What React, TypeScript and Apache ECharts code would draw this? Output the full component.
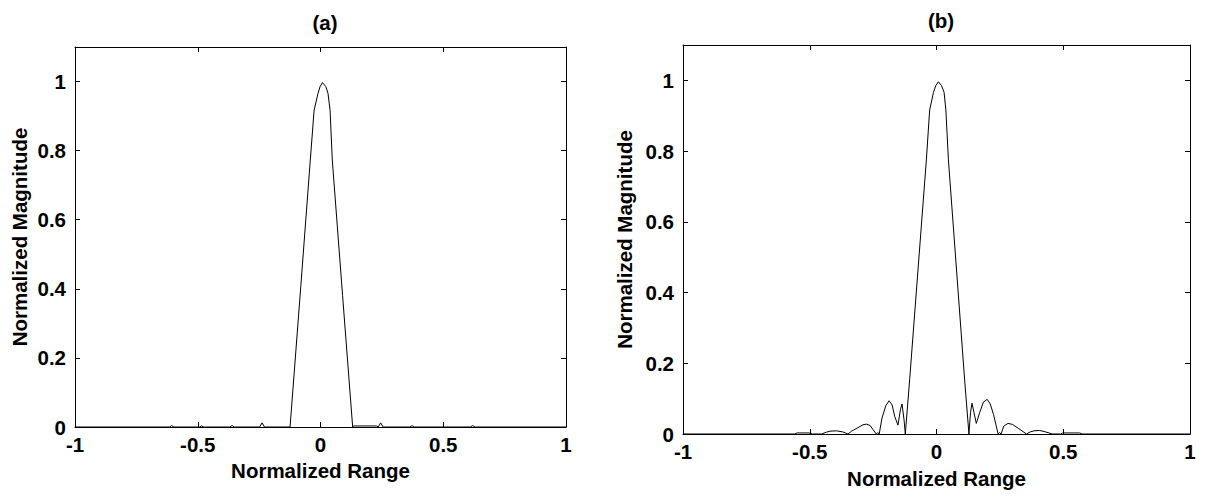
import React, { useEffect, useRef } from "react";
import * as echarts from "echarts";

// (a) range profile
const xA = [-1, -0.615, -0.606, -0.597, -0.493, -0.484, -0.475, -0.37, -0.36, -0.35, -0.248, -0.238, -0.228, -0.124, -0.08, -0.0415, -0.026, -0.01, -0.002, 0.008, 0.022, 0.0305, 0.039, 0.048, 0.09, 0.131, 0.135, 0.229, 0.235, 0.245, 0.255, 0.363, 0.373, 0.383, 0.61, 0.62, 0.63, 1];
const yA = [0, 0, 0.004, 0, 0, 0.003, 0, 0, 0.004, 0, 0, 0.012, 0, 0, 0.41, 0.773, 0.917, 0.966, 0.985, 0.997, 0.985, 0.966, 0.917, 0.773, 0.38, 0, 0.003, 0.003, 0, 0.012, 0, 0, 0.004, 0, 0, 0.004, 0, 0];

// (b) range profile
const xB = [-1, -0.56, -0.55, -0.503, -0.49, -0.454, -0.435, -0.42, -0.395, -0.37, -0.349, -0.335, -0.31, -0.29, -0.277, -0.262, -0.25, -0.237, -0.232, -0.226, -0.215, -0.2, -0.187, -0.175, -0.165, -0.152, -0.142, -0.136, -0.128, -0.123, -0.106, -0.04, -0.027, -0.012, -0.003, 0.0075, 0.02, 0.03, 0.037, 0.047, 0.111, 0.128, 0.134, 0.14, 0.148, 0.157, 0.17, 0.185, 0.2, 0.212, 0.225, 0.235, 0.243, 0.249, 0.255, 0.265, 0.282, 0.3, 0.325, 0.355, 0.37, 0.385, 0.407, 0.43, 0.457, 0.49, 0.498, 0.565, 0.575, 1];
const yB = [0, 0, 0.003, 0.003, 0, 0, 0.005, 0.008, 0.009, 0.006, 0, 0.008, 0.018, 0.026, 0.028, 0.024, 0.012, 0, 0.004, 0, 0.045, 0.08, 0.094, 0.082, 0.05, 0.025, 0.07, 0.085, 0.04, 0, 0.153, 0.775, 0.916, 0.966, 0.985, 0.996, 0.985, 0.966, 0.916, 0.775, 0.153, 0, 0.06, 0.087, 0.06, 0.03, 0.06, 0.09, 0.098, 0.085, 0.055, 0.025, 0, 0.004, 0, 0.022, 0.03, 0.027, 0.015, 0, 0.006, 0.009, 0.01, 0.006, 0, 0, 0.003, 0.003, 0, 0];

const xTicks = { min: -1, max: 1, interval: 0.5 };
const yTicks = { min: 0, max: 1.1, interval: 0.2 };
const titles = ["(a)", "(b)"];
const xName = "Normalized Range";
const yName = "Normalized Magnitude";

const FONT = "'Liberation Sans', Arial, sans-serif";

export default function App() {
  const ref = useRef<HTMLDivElement>(null);
  useEffect(() => {
    document.body.style.margin = "0";
    const chart = echarts.init(ref.current!, null, { renderer: "svg" });
    const grids = [
      { left: 75, top: 47, width: 491, height: 380 },
      { left: 683, top: 45, width: 507, height: 389 },
    ];
    const lbl = { color: "#000", fontSize: 20.5, fontWeight: "bold" as const, fontFamily: FONT };
    const line = { show: true, onZero: false, lineStyle: { color: "#000", width: 1 } };
    const tick = { show: true, inside: true, length: 5, lineStyle: { color: "#000", width: 1 } };
    const xAxes: any[] = [];
    const yAxes: any[] = [];
    const xGaps = [32, 34];
    const yGaps = [45, 48];
    grids.forEach((g, i) => {
      xAxes.push({
        type: "value", gridIndex: i, position: "bottom", ...xTicks,
        axisLine: line, axisTick: tick, splitLine: { show: false },
        axisLabel: { ...lbl, margin: 7 },
        name: xName, nameLocation: "middle", nameGap: xGaps[i], nameTextStyle: lbl,
      });
      xAxes.push({
        type: "value", gridIndex: i, position: "top", ...xTicks,
        axisLine: line, axisTick: tick, splitLine: { show: false }, axisLabel: { show: false },
      });
      yAxes.push({
        type: "value", gridIndex: i, position: "left", ...yTicks,
        axisLine: line, axisTick: tick, splitLine: { show: false },
        axisLabel: { ...lbl, margin: 9, formatter: (v: number) => (v > 1.05 ? "" : String(Math.round(v * 10) / 10)) },
        name: yName, nameLocation: "middle", nameGap: yGaps[i], nameTextStyle: lbl,
      });
      yAxes.push({
        type: "value", gridIndex: i, position: "right", ...yTicks,
        axisLine: line, axisTick: tick, splitLine: { show: false }, axisLabel: { show: false },
      });
    });
    const mk = (xs: number[], ys: number[]) => xs.map((x, k) => [x, ys[k]]);
    chart.setOption({
      animation: false,
      backgroundColor: "#fff",
      title: [
        { text: titles[0], left: 320, top: 7, textAlign: "center", textStyle: { ...lbl } },
        { text: titles[1], left: 936, top: 5, textAlign: "center", textStyle: { ...lbl } },
      ],
      grid: grids,
      xAxis: xAxes,
      yAxis: yAxes,
      series: [
        { type: "line", xAxisIndex: 0, yAxisIndex: 0, data: mk(xA, yA), showSymbol: false, lineStyle: { color: "#000", width: 1 } },
        { type: "line", xAxisIndex: 2, yAxisIndex: 2, data: mk(xB, yB), showSymbol: false, lineStyle: { color: "#000", width: 1 } },
      ],
    });
    return () => chart.dispose();
  }, []);
  return <div ref={ref} style={{ position: "absolute", left: 0, top: 0, width: 1205, height: 500 }} />;
}
